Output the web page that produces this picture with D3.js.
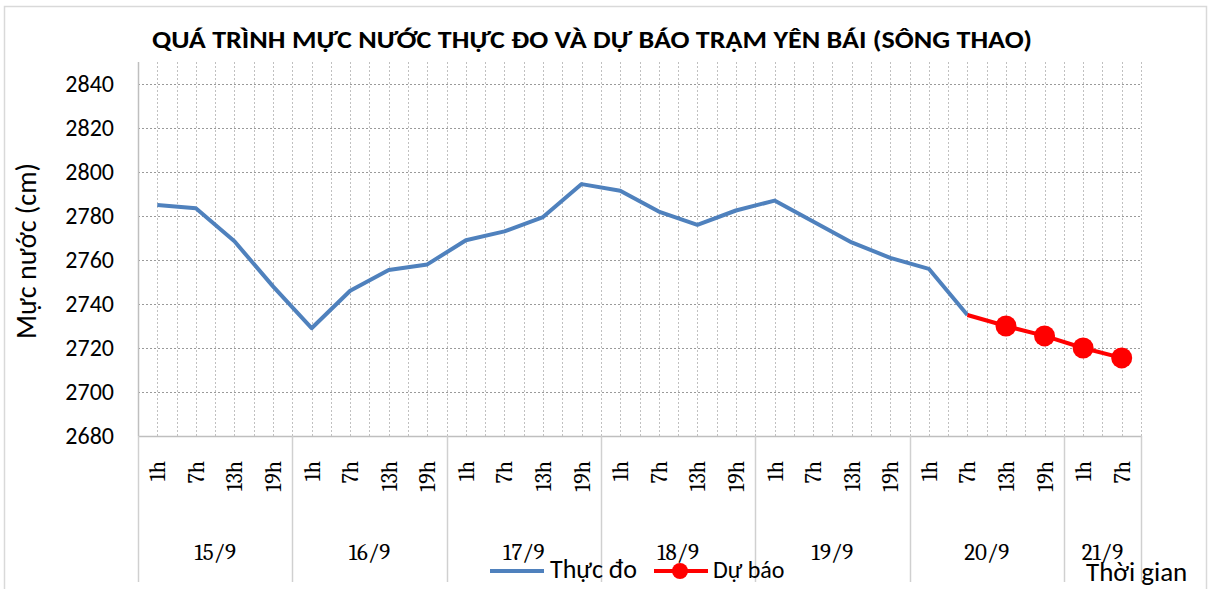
<!DOCTYPE html>
<html>
<head>
<meta charset="utf-8">
<script src="https://cdn.jsdelivr.net/npm/d3@7"></script>
<style>
  body { margin: 0; background: #fff; }
  svg text { fill: #000; }
</style>
</head>
<body>
<div id="chart"></div>
<script>
//chart values
var days = ["15/9", "16/9", "17/9", "18/9", "19/9", "20/9", "21/9"];
var hours = ["1h", "7h", "13h", "19h"];
var hoursPerDay = [4, 4, 4, 4, 4, 4, 2];
//measured water level (cm), one per category from 15/9 1h
var observed = [2785, 2783.5, 2768.5, 2748, 2729, 2746, 2755.5, 2758,
                2769, 2773, 2779.5, 2794.5, 2791.5, 2782, 2776, 2782.5,
                2787, 2777.5, 2768, 2761, 2756, 2735];
//forecast starts at the last measured point (20/9 7h)
var forecastStart = 21;
var forecast = [2735, 2730, 2725.5, 2720, 2715.5];
var yTicks = [2680, 2700, 2720, 2740, 2760, 2780, 2800, 2820, 2840];

(function(){
    var W = 1211, H = 589;
    var left = 138, right = 1141, top = 62, bottom = 436;
    var sans = "Calibri, Carlito, 'Open Sans', sans-serif";
    var serif = "Cambria, Caladea, 'DejaVu Serif', serif";

    //build categories
    var cats = [];
    days.forEach(function(d, i){
        hours.slice(0, hoursPerDay[i]).forEach(function(h){
            cats.push({day: d, hour: h, key: d + " " + h});
        });
    });

    var svg = d3.select("#chart").append("svg")
        .attr("width", W).attr("height", H);

    //outer frame
    svg.append("rect")
        .attr("x", 4.5).attr("y", 6.5)
        .attr("width", 1202).attr("height", 600)
        .attr("fill", "none").attr("stroke", "#d9d9d9").attr("stroke-width", 1.5);

    var x = d3.scaleBand()
        .domain(cats.map(function(c){ return c.key; }))
        .range([left, right]).padding(0);
    var y = d3.scaleLinear().domain([2680, 2850]).range([bottom, top]);
    var bw = x.bandwidth();

    //vertical gridlines at every half category
    var vx = [];
    cats.forEach(function(c, i){
        if (i > 0) vx.push(x(c.key));
        vx.push(x(c.key) + bw / 2);
    });
    vx.push(right);
    svg.append("g").selectAll("line").data(vx).enter().append("line")
        .attr("x1", function(d){ return Math.round(d) + 0.5; })
        .attr("x2", function(d){ return Math.round(d) + 0.5; })
        .attr("y1", top).attr("y2", bottom)
        .attr("stroke", "#c0c0c0").attr("stroke-width", 1)
        .attr("stroke-dasharray", "2,2");

    //horizontal gridlines
    svg.append("g").selectAll("line").data(yTicks.slice(1)).enter().append("line")
        .attr("x1", left).attr("x2", right)
        .attr("y1", function(d){ return Math.round(y(d)) + 0.5; })
        .attr("y2", function(d){ return Math.round(y(d)) + 0.5; })
        .attr("stroke", "#9a9a9a").attr("stroke-width", 1)
        .attr("stroke-dasharray", "2,2");

    //axes lines
    svg.append("line")
        .attr("x1", left + 0.5).attr("x2", left + 0.5)
        .attr("y1", top).attr("y2", bottom)
        .attr("stroke", "#bfbfbf").attr("stroke-width", 1.5);
    svg.append("line")
        .attr("x1", left).attr("x2", right)
        .attr("y1", bottom + 0.5).attr("y2", bottom + 0.5)
        .attr("stroke", "#bfbfbf").attr("stroke-width", 1.5);

    //y axis labels
    svg.append("g").selectAll("text").data(yTicks).enter().append("text")
        .attr("x", 114)
        .attr("y", function(d){ return y(d); })
        .attr("dy", "0.33em")
        .attr("text-anchor", "end")
        .style("font-family", sans).style("font-size", "24px")
        .text(function(d){ return d; });

    //y title
    svg.append("text")
        .attr("transform", "translate(36,251) rotate(-90)")
        .attr("text-anchor", "middle")
        .style("font-family", sans).style("font-size", "28px")
        .text("Mực nước (cm)");

    //day separators below axis
    var seps = [left];
    var idx = 0;
    hoursPerDay.forEach(function(n){
        idx += n;
        seps.push(idx < cats.length ? x(cats[idx].key) : right);
    });
    svg.append("g").selectAll("line").data(seps).enter().append("line")
        .attr("x1", function(d){ return Math.round(d) + 0.5; })
        .attr("x2", function(d){ return Math.round(d) + 0.5; })
        .attr("y1", bottom).attr("y2", 582)
        .attr("stroke", "#d0d0d0").attr("stroke-width", 1.5);

    //hour labels
    svg.append("g").selectAll("text").data(cats).enter().append("text")
        .attr("transform", function(d){
            return "translate(" + (x(d.key) + bw / 2 + 8) + ",461) rotate(-90)";
        })
        .attr("text-anchor", "end")
        .style("font-family", serif).style("font-size", "22px")
        .text(function(d){ return d.hour; });

    //day labels
    svg.append("g").selectAll("text").data(days).enter().append("text")
        .attr("x", function(d, i){ return (seps[i] + seps[i + 1]) / 2; })
        .attr("y", 560)
        .attr("text-anchor", "middle")
        .style("font-family", serif).style("font-size", "23px")
        .text(function(d){ return d; });

    //lines
    var line = d3.line()
        .x(function(d){ return x(cats[d.i].key) + bw / 2; })
        .y(function(d){ return y(d.v); });

    var obs = observed.map(function(v, i){ return {i: i, v: v}; });
    var fc = forecast.map(function(v, i){ return {i: forecastStart + i, v: v}; });

    svg.append("path").datum(obs)
        .attr("d", line)
        .attr("fill", "none").attr("stroke", "#4f81bd")
        .attr("stroke-width", 4).attr("stroke-linejoin", "round");

    svg.append("path").datum(fc)
        .attr("d", line)
        .attr("fill", "none").attr("stroke", "#ff0000")
        .attr("stroke-width", 4).attr("stroke-linejoin", "round");

    svg.append("g").selectAll("circle").data(fc.slice(1)).enter().append("circle")
        .attr("cx", function(d){ return x(cats[d.i].key) + bw / 2; })
        .attr("cy", function(d){ return y(d.v); })
        .attr("r", 10.5)
        .attr("fill", "#ff0000");

    //title
    svg.append("text")
        .attr("x", 152).attr("y", 48)
        .attr("textLength", 880).attr("lengthAdjust", "spacingAndGlyphs")
        .style("font-family", sans).style("font-size", "24px").style("font-weight", "bold")
        .text("QUÁ TRÌNH MỰC NƯỚC THỰC ĐO VÀ DỰ BÁO TRẠM YÊN BÁI (SÔNG THAO)");

    //legend
    var lg = svg.append("g");
    lg.append("line").attr("x1", 490).attr("x2", 544).attr("y1", 571).attr("y2", 571)
        .attr("stroke", "#4f81bd").attr("stroke-width", 4);
    lg.append("text").attr("x", 550).attr("y", 578)
        .style("font-family", sans).style("font-size", "26px").text("Thực đo");
    lg.append("line").attr("x1", 654).attr("x2", 708).attr("y1", 571).attr("y2", 571)
        .attr("stroke", "#ff0000").attr("stroke-width", 4);
    lg.append("circle").attr("cx", 680).attr("cy", 571).attr("r", 8).attr("fill", "#ff0000");
    lg.append("text").attr("x", 713).attr("y", 578)
        .style("font-family", sans).style("font-size", "24px").text("Dự báo");

    svg.append("text")
        .attr("x", 1086).attr("y", 581)
        .style("font-family", sans).style("font-size", "27px")
        .text("Thời gian");
})();
</script>
</body>
</html>
